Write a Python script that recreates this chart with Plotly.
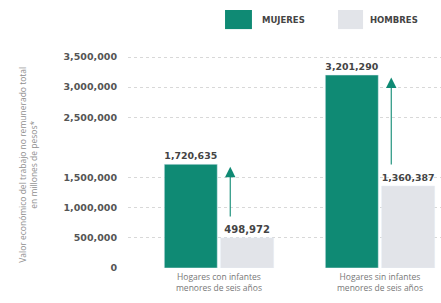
import plotly.graph_objects as go

categories = ["Hogares con infantes<br>menores de seis años",
              "Hogares sin infantes<br>menores de seis años"]
series_names = ["MUJERES", "HOMBRES"]
mujeres = [1720635, 3201290]
hombres = [498972, 1360387]
tick_labels = ["0", "500,000", "1,000,000", "1,500,000", "2,500,000", "3,000,000", "3,500,000"]
y_title = "Valor económico del trabajo no remunerado total<br>en millones de pesos*"

tick_vals = [int(t.replace(",", "")) for t in tick_labels]

TEAL = "#0f8a74"
GRAY = "#e2e4e9"
FONT = "Open Sans"
BOLDFONT = "DejaVu Sans"

fig = go.Figure()
fig.add_trace(go.Bar(
    x=[0, 1], y=mujeres, name=series_names[0], marker_color=TEAL,
    texttemplate="<b>%{y:,}</b>", textposition="outside",
    textfont=dict(family=BOLDFONT, size=10, color="#444"), cliponaxis=False,
))
fig.add_trace(go.Bar(
    x=[0, 1], y=hombres, name=series_names[1], marker_color=GRAY,
    texttemplate="<b>%{y:,}</b>", textposition="outside",
    textfont=dict(family=BOLDFONT, size=10, color="#444"), cliponaxis=False,
))

# arrows from the men's value up to the women's value
for i in range(2):
    fig.add_annotation(
        x=i + 0.07, y=mujeres[i] - 40000, xref="x", yref="y",
        ax=i + 0.07, ay=hombres[i] + 330000, axref="x", ayref="y",
        showarrow=True, arrowhead=2, arrowsize=1.9, arrowwidth=1.1,
        arrowcolor=TEAL, text="",
    )

# manual legend
legend_items = [(series_names[0], TEAL, 0.310, 0.396, 0.422),
                (series_names[1], GRAY, 0.671, 0.751, 0.767)]
for name, col, x0, x1, xt in legend_items:
    fig.add_shape(type="rect", xref="paper", yref="paper", x0=x0, x1=x1,
                  y0=1.101, y1=1.189, fillcolor=col, line_width=0)
    fig.add_annotation(xref="paper", yref="paper", x=xt, y=1.145, text="<b>" + name + "</b>",
                       showarrow=False, xanchor="left", yanchor="middle",
                       font=dict(family=BOLDFONT, size=8.5, color="#444"))

# y-axis title
fig.add_annotation(xref="paper", yref="paper", x=-0.32, y=0.475, text=y_title,
                   textangle=-90, showarrow=False, xanchor="center", yanchor="middle",
                   font=dict(family=FONT, size=8.5, color="#8f8f8f"))

fig.update_layout(
    width=441, height=303,
    margin=dict(l=128, r=0, t=51, b=35),
    paper_bgcolor="white", plot_bgcolor="white",
    barmode="group", bargap=0.3, bargroupgap=0.06,
    showlegend=False,
    font=dict(family=FONT),
    xaxis=dict(
        range=[-0.565, 1.379], tickvals=[0, 1], ticktext=categories,
        showgrid=False, zeroline=False, showline=False, ticks="",
        automargin=False, ticklabelstandoff=2,
        tickfont=dict(family=FONT, size=8.5, color="#777"),
    ),
    yaxis=dict(
        range=[0, 3600000], tickvals=tick_vals, ticktext=tick_labels,
        showgrid=True, gridcolor="#d8d8d8", griddash="dot", gridwidth=1,
        zeroline=False, showline=False, ticks="", automargin=False,
        ticklabelstandoff=10,
        tickfont=dict(family=BOLDFONT, size=9.5, color="#555", weight="bold"),
    ),
)

fig.write_html("out.html", config={"displayModeBar": False})

# remove the browser's default page margin so the figure sits at the window origin
with open("out.html", "r", encoding="utf-8") as f:
    html = f.read()
html = html.replace("<body>", '<body style="margin:0;padding:0;overflow:hidden">', 1)
with open("out.html", "w", encoding="utf-8") as f:
    f.write(html)
